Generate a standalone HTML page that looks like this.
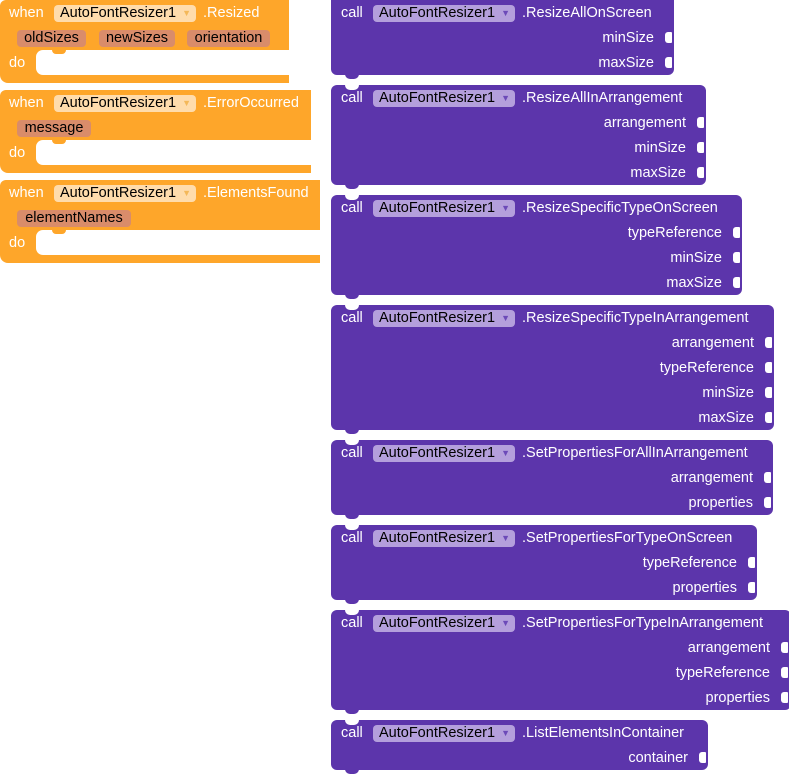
<!DOCTYPE html>
<html><head><meta charset="utf-8"><style>
body{margin:0;width:789px;height:780px;background:#fff;position:relative;overflow:hidden;font-family:"Liberation Sans",sans-serif;font-size:14.5px;}
.b{position:absolute;}
.o{background:#fea62a;}
.p{background:#5c35ab;border-radius:6px;}
.t{position:absolute;color:#fff;white-space:nowrap;line-height:16px;}
.dd{position:absolute;height:17px;border-radius:4px;color:#000;line-height:17px;padding-left:6px;box-sizing:border-box;white-space:nowrap;}
.ddo{background:#ffdcac;}
.ddp{background:#b49fdc;}
.arr{position:absolute;right:5px;top:0;font-size:9px;}
.ddo .arr{color:#f4b85a}
.ddp .arr{color:#6c4ab8}
.chip{position:absolute;height:17px;background:#d98c6a;border-radius:4px;color:#000;line-height:17px;text-align:center;}
.slot{position:absolute;background:#fff;border-radius:7px 0 0 7px;}
.notch{position:absolute;width:14px;height:5px;background:#fff;border-radius:0 0 6px 6px;}
.tab{position:absolute;width:14px;height:5px;background:#5c35ab;border-radius:0 0 6px 6px;}
.sock{position:absolute;width:7px;height:11px;background:#fff;border-radius:3px 1px 1px 3px;}
</style></head><body>

<!-- Event blocks -->
<div class="b o" style="left:0;top:0;width:289px;height:83px;border-radius:6px 0 0 8px"></div>
<div class="slot" style="left:36px;top:50px;width:253px;height:25px"></div>
<div class="notch" style="left:52px;top:50px;background:#fea62a;height:4px"></div>
<div class="t" style="left:9px;top:5px">when</div>
<div class="dd ddo" style="left:54px;top:5px;width:142px">AutoFontResizer1<span class="arr">▼</span></div>
<div class="t" style="left:203px;top:5px">.Resized</div>
<div class="chip" style="left:17px;top:30px;width:69px">oldSizes</div>
<div class="chip" style="left:99px;top:30px;width:76px">newSizes</div>
<div class="chip" style="left:187px;top:30px;width:83px">orientation</div>
<div class="t" style="left:9px;top:55px">do</div>

<div class="b o" style="left:0;top:90px;width:311px;height:83px;border-radius:6px 0 0 8px"></div>
<div class="slot" style="left:36px;top:140px;width:275px;height:25px"></div>
<div class="notch" style="left:52px;top:140px;background:#fea62a;height:4px"></div>
<div class="t" style="left:9px;top:95px">when</div>
<div class="dd ddo" style="left:54px;top:95px;width:142px">AutoFontResizer1<span class="arr">▼</span></div>
<div class="t" style="left:203px;top:95px">.ErrorOccurred</div>
<div class="chip" style="left:17px;top:120px;width:74px">message</div>
<div class="t" style="left:9px;top:145px">do</div>

<div class="b o" style="left:0;top:180px;width:320px;height:83px;border-radius:6px 0 0 8px"></div>
<div class="slot" style="left:36px;top:230px;width:284px;height:25px"></div>
<div class="notch" style="left:52px;top:230px;background:#fea62a;height:4px"></div>
<div class="t" style="left:9px;top:185px">when</div>
<div class="dd ddo" style="left:54px;top:185px;width:142px">AutoFontResizer1<span class="arr">▼</span></div>
<div class="t" style="left:203px;top:185px">.ElementsFound</div>
<div class="chip" style="left:17px;top:210px;width:114px">elementNames</div>
<div class="t" style="left:9px;top:235px">do</div>

<!-- Call blocks -->
<div class="b p" style="left:331px;top:0;width:343px;height:75px;border-radius:0 0 6px 6px"></div>
<div class="tab" style="left:345px;top:74px"></div>
<div class="t" style="left:341px;top:5px">call</div>
<div class="dd ddp" style="left:373px;top:5px;width:142px">AutoFontResizer1<span class="arr">▼</span></div>
<div class="t" style="left:522px;top:5px">.ResizeAllOnScreen</div>
<div class="t" style="right:135px;top:30px">minSize</div><div class="sock" style="left:665px;top:32px"></div>
<div class="t" style="right:135px;top:55px">maxSize</div><div class="sock" style="left:665px;top:57px"></div>

<div class="b p" style="left:331px;top:85px;width:375px;height:100px"></div>
<div class="notch" style="left:345px;top:85px"></div>
<div class="tab" style="left:345px;top:184px"></div>
<div class="t" style="left:341px;top:90px">call</div>
<div class="dd ddp" style="left:373px;top:90px;width:142px">AutoFontResizer1<span class="arr">▼</span></div>
<div class="t" style="left:522px;top:90px">.ResizeAllInArrangement</div>
<div class="t" style="right:103px;top:115px">arrangement</div><div class="sock" style="left:697px;top:117px"></div>
<div class="t" style="right:103px;top:140px">minSize</div><div class="sock" style="left:697px;top:142px"></div>
<div class="t" style="right:103px;top:165px">maxSize</div><div class="sock" style="left:697px;top:167px"></div>

<div class="b p" style="left:331px;top:195px;width:411px;height:100px"></div>
<div class="notch" style="left:345px;top:195px"></div>
<div class="tab" style="left:345px;top:294px"></div>
<div class="t" style="left:341px;top:200px">call</div>
<div class="dd ddp" style="left:373px;top:200px;width:142px">AutoFontResizer1<span class="arr">▼</span></div>
<div class="t" style="left:522px;top:200px">.ResizeSpecificTypeOnScreen</div>
<div class="t" style="right:67px;top:225px">typeReference</div><div class="sock" style="left:733px;top:227px"></div>
<div class="t" style="right:67px;top:250px">minSize</div><div class="sock" style="left:733px;top:252px"></div>
<div class="t" style="right:67px;top:275px">maxSize</div><div class="sock" style="left:733px;top:277px"></div>

<div class="b p" style="left:331px;top:305px;width:443px;height:125px"></div>
<div class="notch" style="left:345px;top:305px"></div>
<div class="tab" style="left:345px;top:429px"></div>
<div class="t" style="left:341px;top:310px">call</div>
<div class="dd ddp" style="left:373px;top:310px;width:142px">AutoFontResizer1<span class="arr">▼</span></div>
<div class="t" style="left:522px;top:310px">.ResizeSpecificTypeInArrangement</div>
<div class="t" style="right:35px;top:335px">arrangement</div><div class="sock" style="left:765px;top:337px"></div>
<div class="t" style="right:35px;top:360px">typeReference</div><div class="sock" style="left:765px;top:362px"></div>
<div class="t" style="right:35px;top:385px">minSize</div><div class="sock" style="left:765px;top:387px"></div>
<div class="t" style="right:35px;top:410px">maxSize</div><div class="sock" style="left:765px;top:412px"></div>

<div class="b p" style="left:331px;top:440px;width:442px;height:75px"></div>
<div class="notch" style="left:345px;top:440px"></div>
<div class="tab" style="left:345px;top:514px"></div>
<div class="t" style="left:341px;top:445px">call</div>
<div class="dd ddp" style="left:373px;top:445px;width:142px">AutoFontResizer1<span class="arr">▼</span></div>
<div class="t" style="left:522px;top:445px">.SetPropertiesForAllInArrangement</div>
<div class="t" style="right:36px;top:470px">arrangement</div><div class="sock" style="left:764px;top:472px"></div>
<div class="t" style="right:36px;top:495px">properties</div><div class="sock" style="left:764px;top:497px"></div>

<div class="b p" style="left:331px;top:525px;width:426px;height:75px"></div>
<div class="notch" style="left:345px;top:525px"></div>
<div class="tab" style="left:345px;top:599px"></div>
<div class="t" style="left:341px;top:530px">call</div>
<div class="dd ddp" style="left:373px;top:530px;width:142px">AutoFontResizer1<span class="arr">▼</span></div>
<div class="t" style="left:522px;top:530px">.SetPropertiesForTypeOnScreen</div>
<div class="t" style="right:52px;top:555px">typeReference</div><div class="sock" style="left:748px;top:557px"></div>
<div class="t" style="right:52px;top:580px">properties</div><div class="sock" style="left:748px;top:582px"></div>

<div class="b p" style="left:331px;top:610px;width:460px;height:100px"></div>
<div class="notch" style="left:345px;top:610px"></div>
<div class="tab" style="left:345px;top:709px"></div>
<div class="t" style="left:341px;top:615px">call</div>
<div class="dd ddp" style="left:373px;top:615px;width:142px">AutoFontResizer1<span class="arr">▼</span></div>
<div class="t" style="left:522px;top:615px">.SetPropertiesForTypeInArrangement</div>
<div class="t" style="right:19px;top:640px">arrangement</div><div class="sock" style="left:781px;top:642px"></div>
<div class="t" style="right:19px;top:665px">typeReference</div><div class="sock" style="left:781px;top:667px"></div>
<div class="t" style="right:19px;top:690px">properties</div><div class="sock" style="left:781px;top:692px"></div>

<div class="b p" style="left:331px;top:720px;width:377px;height:50px"></div>
<div class="notch" style="left:345px;top:720px"></div>
<div class="tab" style="left:345px;top:769px"></div>
<div class="t" style="left:341px;top:725px">call</div>
<div class="dd ddp" style="left:373px;top:725px;width:142px">AutoFontResizer1<span class="arr">▼</span></div>
<div class="t" style="left:522px;top:725px">.ListElementsInContainer</div>
<div class="t" style="right:101px;top:750px">container</div><div class="sock" style="left:699px;top:752px"></div>

</body></html>
